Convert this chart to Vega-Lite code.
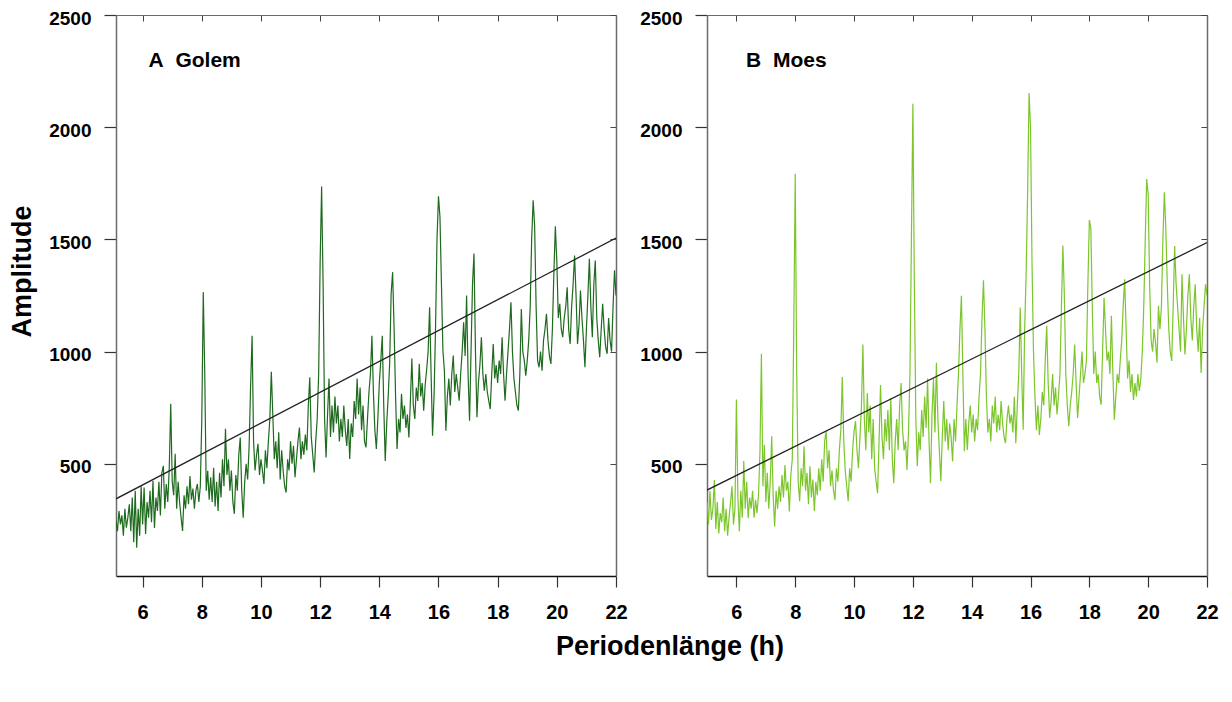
{
"$schema": "https://vega.github.io/schema/vega-lite/v6.json",
"padding": {"left": 8, "top": 9, "right": 12, "bottom": 40},
"background": "white",
"spacing": 91,
"bounds": "flush",
"title": {"text": "Periodenlänge (h)", "orient": "bottom", "anchor": "start", "frame": "group", "offset": 12, "dx": 440, "font": "Liberation Sans", "fontSize": 27, "fontWeight": "bold", "color": "black"},
"config": {"view": {"stroke": null}, "axis": {"grid": false}},
"datasets": {
"amp": [
{"h":5.00,"B":330},{"h":5.05,"B":230},{"h":5.10,"A":245,"B":380},{"h":5.15,"A":200,"B":250},{"h":5.20,"A":290,"B":300},{"h":5.25,"A":230,"B":428},{"h":5.30,"A":270,"B":210},{"h":5.35,"A":180,"B":330},{"h":5.40,"A":300,"B":190},{"h":5.45,"A":215,"B":280},
{"h":5.50,"A":260,"B":240},{"h":5.55,"A":320,"B":350},{"h":5.60,"A":200,"B":200},{"h":5.65,"A":350,"B":300},{"h":5.70,"A":150,"B":180},{"h":5.75,"A":380,"B":260},{"h":5.80,"A":126,"B":330},{"h":5.85,"A":300,"B":400},{"h":5.90,"A":180,"B":230},{"h":5.95,"A":400,"B":300},
{"h":6.00,"A":230,"B":786},{"h":6.05,"A":394,"B":350},{"h":6.10,"A":187,"B":200},{"h":6.15,"A":330,"B":380},{"h":6.20,"A":260,"B":260},{"h":6.25,"A":380,"B":512},{"h":6.30,"A":240,"B":300},{"h":6.35,"A":424,"B":420},{"h":6.40,"A":214,"B":257},{"h":6.45,"A":350,"B":350},
{"h":6.50,"A":290,"B":300},{"h":6.55,"A":420,"B":380},{"h":6.60,"A":270,"B":260},{"h":6.65,"A":460,"B":340},{"h":6.70,"A":491,"B":280},{"h":6.75,"A":300,"B":360},{"h":6.80,"A":410,"B":550},{"h":6.85,"A":330,"B":990},{"h":6.90,"A":480,"B":400},{"h":6.95,"A":768,"B":585},
{"h":7.00,"A":420,"B":330},{"h":7.05,"A":360,"B":460},{"h":7.10,"A":545,"B":300},{"h":7.15,"A":300,"B":420},{"h":7.20,"A":420,"B":623},{"h":7.25,"A":330,"B":360},{"h":7.30,"A":260,"B":221},{"h":7.35,"A":201,"B":380},{"h":7.40,"A":360,"B":300},{"h":7.45,"A":300,"B":400},
{"h":7.50,"A":400,"B":330},{"h":7.55,"A":320,"B":450},{"h":7.60,"A":446,"B":350},{"h":7.65,"A":340,"B":495},{"h":7.70,"A":390,"B":380},{"h":7.75,"A":300,"B":420},{"h":7.80,"A":380,"B":288},{"h":7.85,"A":410,"B":450},{"h":7.90,"A":330,"B":520},{"h":7.95,"A":400,"B":1100},
{"h":8.00,"A":700,"B":1792},{"h":8.05,"A":1265,"B":900},{"h":8.10,"A":900,"B":420},{"h":8.15,"A":380,"B":333},{"h":8.20,"A":469,"B":480},{"h":8.25,"A":340,"B":400},{"h":8.30,"A":440,"B":578},{"h":8.35,"A":330,"B":380},{"h":8.40,"A":482,"B":460},{"h":8.45,"A":310,"B":320},
{"h":8.50,"A":420,"B":489},{"h":8.55,"A":290,"B":350},{"h":8.60,"A":460,"B":430},{"h":8.65,"A":350,"B":290},{"h":8.70,"A":520,"B":420},{"h":8.75,"A":400,"B":360},{"h":8.80,"A":656,"B":480},{"h":8.85,"A":450,"B":380},{"h":8.90,"A":520,"B":520},{"h":8.95,"A":380,"B":420},
{"h":9.00,"A":470,"B":600},{"h":9.05,"A":330,"B":646},{"h":9.10,"A":277,"B":480},{"h":9.15,"A":450,"B":560},{"h":9.20,"A":380,"B":400},{"h":9.25,"A":540,"B":470},{"h":9.30,"A":617,"B":380},{"h":9.35,"A":380,"B":339},{"h":9.40,"A":260,"B":480},{"h":9.45,"A":420,"B":420},
{"h":9.50,"A":500,"B":560},{"h":9.55,"A":430,"B":650},{"h":9.60,"A":580,"B":887},{"h":9.65,"A":850,"B":600},{"h":9.70,"A":1071,"B":470},{"h":9.75,"A":600,"B":400},{"h":9.80,"A":470,"B":333},{"h":9.85,"A":540,"B":480},{"h":9.90,"A":589,"B":420},{"h":9.95,"A":450,"B":560},
{"h":10.00,"A":520,"B":646},{"h":10.05,"A":470,"B":690},{"h":10.10,"A":410,"B":560},{"h":10.15,"A":560,"B":480},{"h":10.20,"A":480,"B":620},{"h":10.25,"A":600,"B":750},{"h":10.30,"A":700,"B":1032},{"h":10.35,"A":910,"B":700},{"h":10.40,"A":720,"B":560},{"h":10.45,"A":520,"B":815},
{"h":10.50,"A":600,"B":640},{"h":10.55,"A":480,"B":760},{"h":10.60,"A":640,"B":520},{"h":10.65,"A":430,"B":700},{"h":10.70,"A":560,"B":480},{"h":10.75,"A":470,"B":420},{"h":10.80,"A":400,"B":369},{"h":10.85,"A":372,"B":600},{"h":10.90,"A":520,"B":851},{"h":10.95,"A":470,"B":620},
{"h":11.00,"A":600,"B":520},{"h":11.05,"A":500,"B":700},{"h":11.10,"A":580,"B":600},{"h":11.15,"A":440,"B":740},{"h":11.20,"A":520,"B":560},{"h":11.25,"A":600,"B":793},{"h":11.30,"A":662,"B":520},{"h":11.35,"A":520,"B":413},{"h":11.40,"A":600,"B":600},{"h":11.45,"A":540,"B":700},
{"h":11.50,"A":630,"B":560},{"h":11.55,"A":560,"B":760},{"h":11.60,"A":760,"B":860},{"h":11.65,"A":885,"B":650},{"h":11.70,"A":620,"B":560},{"h":11.75,"A":540,"B":600},{"h":11.80,"A":461,"B":473},{"h":11.85,"A":600,"B":640},{"h":11.90,"A":700,"B":900},{"h":11.95,"A":900,"B":1500},
{"h":12.00,"A":1400,"B":2105},{"h":12.05,"A":1736,"B":1300},{"h":12.10,"A":1300,"B":700},{"h":12.15,"A":700,"B":489},{"h":12.20,"A":528,"B":640},{"h":12.25,"A":720,"B":560},{"h":12.30,"A":880,"B":740},{"h":12.35,"A":620,"B":620},{"h":12.40,"A":760,"B":800},{"h":12.45,"A":640,"B":660},
{"h":12.50,"A":800,"B":880},{"h":12.55,"A":680,"B":600},{"h":12.60,"A":760,"B":413},{"h":12.65,"A":600,"B":720},{"h":12.70,"A":700,"B":880},{"h":12.75,"A":620,"B":640},{"h":12.80,"A":760,"B":950},{"h":12.85,"A":650,"B":700},{"h":12.90,"A":580,"B":560},{"h":12.95,"A":700,"B":422},
{"h":13.00,"A":522,"B":620},{"h":13.05,"A":680,"B":780},{"h":13.10,"A":620,"B":600},{"h":13.15,"A":780,"B":700},{"h":13.20,"A":700,"B":560},{"h":13.25,"A":880,"B":680},{"h":13.30,"A":720,"B":620},{"h":13.35,"A":840,"B":510},{"h":13.40,"A":650,"B":700},{"h":13.45,"A":760,"B":600},
{"h":13.50,"A":600,"B":760},{"h":13.55,"A":573,"B":900},{"h":13.60,"A":700,"B":1100},{"h":13.65,"A":820,"B":1249},{"h":13.70,"A":900,"B":900},{"h":13.75,"A":1071,"B":556},{"h":13.80,"A":820,"B":700},{"h":13.85,"A":650,"B":562},{"h":13.90,"A":566,"B":680},{"h":13.95,"A":700,"B":760},
{"h":14.00,"A":860,"B":640},{"h":14.05,"A":960,"B":720},{"h":14.10,"A":1071,"B":600},{"h":14.15,"A":760,"B":700},{"h":14.20,"A":513,"B":650},{"h":14.25,"A":680,"B":800},{"h":14.30,"A":800,"B":900},{"h":14.35,"A":950,"B":1150},{"h":14.40,"A":1259,"B":1318},{"h":14.45,"A":1354,"B":1100},
{"h":14.50,"A":1100,"B":800},{"h":14.55,"A":800,"B":640},{"h":14.60,"A":566,"B":700},{"h":14.65,"A":700,"B":600},{"h":14.70,"A":640,"B":760},{"h":14.75,"A":812,"B":680},{"h":14.80,"A":700,"B":800},{"h":14.85,"A":760,"B":640},{"h":14.90,"A":660,"B":720},{"h":14.95,"A":720,"B":650},
{"h":15.00,"A":617,"B":780},{"h":15.05,"A":780,"B":680},{"h":15.10,"A":969,"B":620},{"h":15.15,"A":760,"B":592},{"h":15.20,"A":700,"B":700},{"h":15.25,"A":840,"B":760},{"h":15.30,"A":780,"B":680},{"h":15.35,"A":946,"B":720},{"h":15.40,"A":800,"B":640},{"h":15.45,"A":860,"B":800},
{"h":15.50,"A":737,"B":592},{"h":15.55,"A":850,"B":760},{"h":15.60,"A":920,"B":900},{"h":15.65,"A":1000,"B":1196},{"h":15.70,"A":1198,"B":900},{"h":15.75,"A":900,"B":652},{"h":15.80,"A":625,"B":1100},{"h":15.85,"A":800,"B":1345},{"h":15.90,"A":1100,"B":1700},{"h":15.95,"A":1500,"B":2152},
{"h":16.00,"A":1692,"B":2000},{"h":16.05,"A":1600,"B":1400},{"h":16.10,"A":1300,"B":1000},{"h":16.15,"A":1004,"B":800},{"h":16.20,"A":915,"B":650},{"h":16.25,"A":647,"B":760},{"h":16.30,"A":800,"B":629},{"h":16.35,"A":880,"B":700},{"h":16.40,"A":760,"B":820},{"h":16.45,"A":900,"B":760},
{"h":16.50,"A":982,"B":960},{"h":16.55,"A":820,"B":1115},{"h":16.60,"A":900,"B":860},{"h":16.65,"A":840,"B":704},{"h":16.70,"A":781,"B":780},{"h":16.75,"A":900,"B":900},{"h":16.80,"A":1000,"B":760},{"h":16.85,"A":1131,"B":840},{"h":16.90,"A":980,"B":720},{"h":16.95,"A":1250,"B":800},
{"h":17.00,"A":900,"B":900},{"h":17.05,"A":692,"B":1200},{"h":17.10,"A":1000,"B":1473},{"h":17.15,"A":1300,"B":1250},{"h":17.20,"A":1437,"B":900},{"h":17.25,"A":1000,"B":760},{"h":17.30,"A":707,"B":668},{"h":17.35,"A":860,"B":760},{"h":17.40,"A":940,"B":820},{"h":17.45,"A":1064,"B":900},
{"h":17.50,"A":900,"B":1032},{"h":17.55,"A":826,"B":860},{"h":17.60,"A":900,"B":704},{"h":17.65,"A":820,"B":800},{"h":17.70,"A":780,"B":900},{"h":17.75,"A":744,"B":1000},{"h":17.80,"A":900,"B":860},{"h":17.85,"A":1034,"B":900},{"h":17.90,"A":880,"B":960},{"h":17.95,"A":940,"B":1300},
{"h":18.00,"A":860,"B":1586},{"h":18.05,"A":960,"B":1550},{"h":18.10,"A":900,"B":1200},{"h":18.15,"A":1064,"B":900},{"h":18.20,"A":900,"B":1000},{"h":18.25,"A":781,"B":860},{"h":18.30,"A":900,"B":900},{"h":18.35,"A":1000,"B":800},{"h":18.40,"A":1100,"B":763},{"h":18.45,"A":1220,"B":1000},
{"h":18.50,"A":1000,"B":1240},{"h":18.55,"A":880,"B":1100},{"h":18.60,"A":820,"B":960},{"h":18.65,"A":760,"B":1000},{"h":18.70,"A":737,"B":900},{"h":18.75,"A":900,"B":1160},{"h":18.80,"A":1190,"B":900},{"h":18.85,"A":1000,"B":696},{"h":18.90,"A":960,"B":800},{"h":18.95,"A":893,"B":900},
{"h":19.00,"A":960,"B":860},{"h":19.05,"A":1050,"B":960},{"h":19.10,"A":1200,"B":1050},{"h":19.15,"A":1504,"B":1200},{"h":19.20,"A":1674,"B":1322},{"h":19.25,"A":1560,"B":1100},{"h":19.30,"A":1200,"B":880},{"h":19.35,"A":960,"B":960},{"h":19.40,"A":930,"B":820},{"h":19.45,"A":1000,"B":900},
{"h":19.50,"A":915,"B":785},{"h":19.55,"A":1050,"B":860},{"h":19.60,"A":1100,"B":800},{"h":19.65,"A":1168,"B":900},{"h":19.70,"A":1050,"B":825},{"h":19.75,"A":980,"B":880},{"h":19.80,"A":945,"B":1000},{"h":19.85,"A":1100,"B":1200},{"h":19.90,"A":1350,"B":1500},{"h":19.95,"A":1558,"B":1769},
{"h":20.00,"A":1400,"B":1700},{"h":20.05,"A":1150,"B":1300},{"h":20.10,"A":1213,"B":1050},{"h":20.15,"A":1100,"B":1000},{"h":20.20,"A":1064,"B":1100},{"h":20.25,"A":1150,"B":1040},{"h":20.30,"A":1200,"B":950},{"h":20.35,"A":1287,"B":1204},{"h":20.40,"A":1100,"B":1100},{"h":20.45,"A":1034,"B":1200},
{"h":20.50,"A":1200,"B":1500},{"h":20.55,"A":1300,"B":1710},{"h":20.60,"A":1428,"B":1546},{"h":20.65,"A":1250,"B":1300},{"h":20.70,"A":1034,"B":1100},{"h":20.75,"A":1120,"B":1000},{"h":20.80,"A":1272,"B":958},{"h":20.85,"A":1150,"B":1200},{"h":20.90,"A":1050,"B":1471},{"h":20.95,"A":930,"B":1300},
{"h":21.00,"A":1100,"B":1200},{"h":21.05,"A":1250,"B":1100},{"h":21.10,"A":1414,"B":1000},{"h":21.15,"A":1200,"B":1345},{"h":21.20,"A":1064,"B":1150},{"h":21.25,"A":1300,"B":987},{"h":21.30,"A":1406,"B":1100},{"h":21.35,"A":1150,"B":1250},{"h":21.40,"A":1050,"B":1345},{"h":21.45,"A":975,"B":1150},
{"h":21.50,"A":1100,"B":1050},{"h":21.55,"A":1213,"B":1200},{"h":21.60,"A":1100,"B":1300},{"h":21.65,"A":1020,"B":1100},{"h":21.70,"A":990,"B":1000},{"h":21.75,"A":1150,"B":1150},{"h":21.80,"A":1050,"B":905},{"h":21.85,"A":1000,"B":1100},{"h":21.90,"A":1200,"B":1200},{"h":21.95,"A":1362,"B":1300},
{"h":22.00,"A":1250,"B":1250}
],
"fit": [
{"panel":"A","h":5.1,"y":344},{"panel":"A","h":22,"y":1506},
{"panel":"B","h":5.0,"y":383},{"panel":"B","h":22,"y":1486}
],
"labels": [
{"panel":"A","label":"A\u00a0\u00a0Golem"},
{"panel":"B","label":"B\u00a0\u00a0Moes"}
]
},
"hconcat": [
{
"width": 500, "height": 561,
"layer": [
{
"data": {"name": "amp"},
"mark": {"type": "line", "color": "#1e6a1e", "strokeWidth": 1.2, "clip": true},
"encoding": {
"x": {"field": "h", "type": "quantitative", "scale": {"domain": [5.1, 22], "nice": false, "zero": false},
"axis": {"orient": "bottom", "values": [6,8,10,12,14,16,18,20,22], "format": "d", "title": null, "labelFont": "Liberation Sans", "labelFontSize": 20, "labelFontWeight": "bold", "labelColor": "black", "labelFlush": false, "labelOverlap": false, "tickSize": 11, "tickColor": "#333", "tickWidth": 1.2, "labelPadding": 15, "domainColor": "#111", "domainWidth": 1.5}},
"y": {"field": "A", "type": "quantitative", "scale": {"domain": [0, 2500], "nice": false},
"axis": {"orient": "left", "values": [500,1000,1500,2000,2500], "format": "d", "title": "Amplitude", "titleFont": "Liberation Sans", "titleFontSize": 27, "titleFontWeight": "bold", "titleColor": "black", "titleX": -94, "titleY": 256, "titleBaseline": "middle", "labelFont": "Liberation Sans", "labelFontSize": 19, "labelFontWeight": "bold", "labelColor": "black", "labelOffset": 3, "tickSize": 12, "tickColor": "#333", "tickWidth": 1.2, "labelPadding": 13, "domainColor": "#6b6b6b", "domainWidth": 1.5}}
}
},
{
"data": {"name": "fit"},
"transform": [{"filter": "datum.panel === 'A'"}],
"mark": {"type": "line", "color": "#222222", "strokeWidth": 1.3, "clip": true},
"encoding": {
"x": {"field": "h", "type": "quantitative", "scale": {"domain": [5.1, 22], "nice": false, "zero": false},
"axis": {"orient": "top", "values": [6,8,10,12,14,16,18,20,22], "title": null, "labels": false, "tickSize": -6, "tickColor": "#444", "domainColor": "#6b6b6b", "domainWidth": 1.2}},
"y": {"field": "y", "type": "quantitative", "scale": {"domain": [0, 2500], "nice": false},
"axis": {"orient": "right", "values": [500,1000,1500,2000,2500], "title": null, "labels": false, "tickSize": -6, "tickColor": "#444", "domainColor": "#6b6b6b", "domainWidth": 1.5}}
}
},
{
"data": {"name": "labels"},
"transform": [{"filter": "datum.panel === 'A'"}],
"mark": {"type": "text", "align": "left", "baseline": "alphabetic", "font": "Liberation Sans", "fontSize": 21, "fontWeight": "bold", "color": "black"},
"encoding": {
"x": {"datum": 6.2, "type": "quantitative", "scale": {"domain": [5.1, 22], "nice": false, "zero": false}, "axis": null},
"y": {"datum": 2268, "type": "quantitative", "scale": {"domain": [0, 2500], "nice": false}, "axis": null},
"text": {"field": "label"}
}
}
],
"resolve": {"axis": {"x": "independent", "y": "independent"}}
},
{
"width": 500, "height": 561,
"layer": [
{
"data": {"name": "amp"},
"mark": {"type": "line", "color": "#7cc62c", "strokeWidth": 1.2, "clip": true},
"encoding": {
"x": {"field": "h", "type": "quantitative", "scale": {"domain": [5, 22], "nice": false, "zero": false},
"axis": {"orient": "bottom", "values": [6,8,10,12,14,16,18,20,22], "format": "d", "title": null, "labelFont": "Liberation Sans", "labelFontSize": 20, "labelFontWeight": "bold", "labelColor": "black", "labelFlush": false, "labelOverlap": false, "tickSize": 11, "tickColor": "#333", "tickWidth": 1.2, "labelPadding": 15, "domainColor": "#111", "domainWidth": 1.5}},
"y": {"field": "B", "type": "quantitative", "scale": {"domain": [0, 2500], "nice": false},
"axis": {"orient": "left", "values": [500,1000,1500,2000,2500], "format": "d", "title": null, "labelFont": "Liberation Sans", "labelFontSize": 19, "labelFontWeight": "bold", "labelColor": "black", "labelOffset": 3, "tickSize": 12, "tickColor": "#333", "tickWidth": 1.2, "labelPadding": 13, "domainColor": "#6b6b6b", "domainWidth": 1.5}}
}
},
{
"data": {"name": "fit"},
"transform": [{"filter": "datum.panel === 'B'"}],
"mark": {"type": "line", "color": "#222222", "strokeWidth": 1.3, "clip": true},
"encoding": {
"x": {"field": "h", "type": "quantitative", "scale": {"domain": [5, 22], "nice": false, "zero": false},
"axis": {"orient": "top", "values": [6,8,10,12,14,16,18,20,22], "title": null, "labels": false, "tickSize": -6, "tickColor": "#444", "domainColor": "#6b6b6b", "domainWidth": 1.2}},
"y": {"field": "y", "type": "quantitative", "scale": {"domain": [0, 2500], "nice": false},
"axis": {"orient": "right", "values": [500,1000,1500,2000,2500], "title": null, "labels": false, "tickSize": -6, "tickColor": "#444", "domainColor": "#6b6b6b", "domainWidth": 1.5}}
}
},
{
"data": {"name": "labels"},
"transform": [{"filter": "datum.panel === 'B'"}],
"mark": {"type": "text", "align": "left", "baseline": "alphabetic", "font": "Liberation Sans", "fontSize": 21, "fontWeight": "bold", "color": "black"},
"encoding": {
"x": {"datum": 6.33, "type": "quantitative", "scale": {"domain": [5, 22], "nice": false, "zero": false}, "axis": null},
"y": {"datum": 2268, "type": "quantitative", "scale": {"domain": [0, 2500], "nice": false}, "axis": null},
"text": {"field": "label"}
}
}
],
"resolve": {"axis": {"x": "independent", "y": "independent"}}
}
]
}
